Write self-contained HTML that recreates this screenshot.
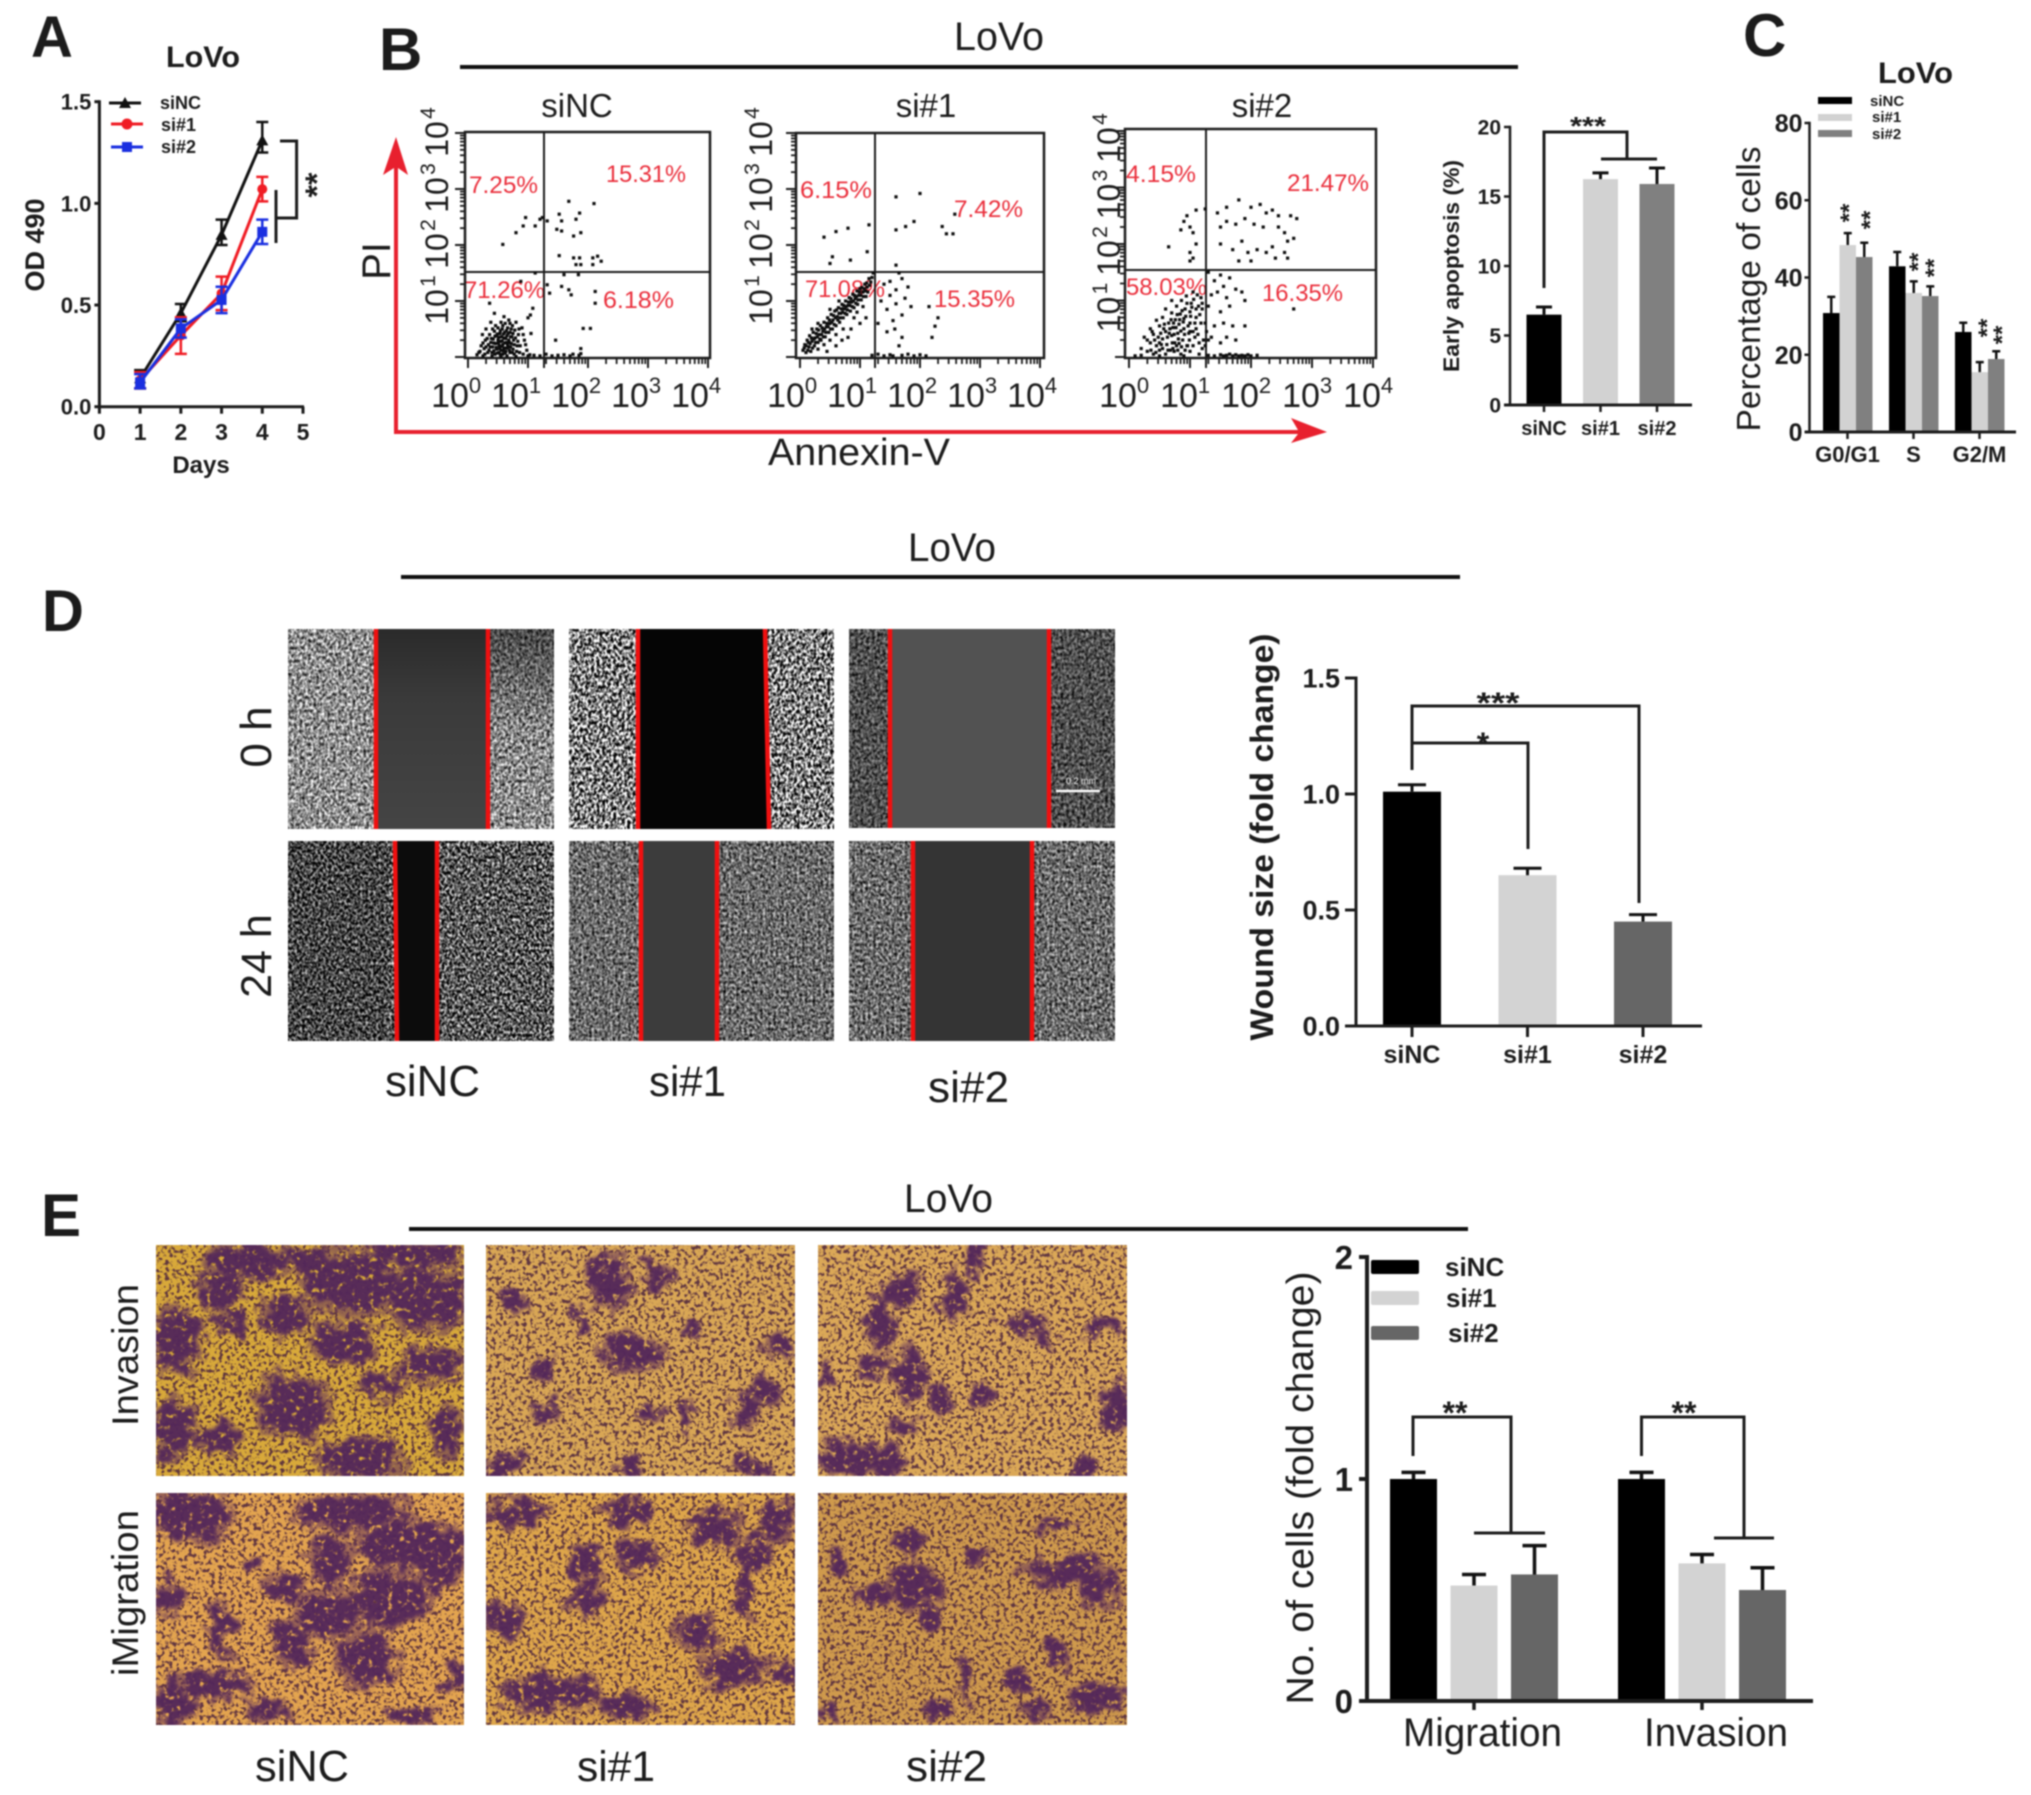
<!DOCTYPE html>
<html lang="en">
<head>
<meta charset="utf-8">
<title>LoVo knockdown figure</title>
<style>
html,body{margin:0;padding:0;background:#fff;}
#figure{display:block;width:2031px;height:1795px;filter:blur(0.7px);}
text{font-family:"Liberation Sans",sans-serif;fill:#1c1c1c;}
.b{font-weight:bold;}
.m{text-anchor:middle;}
.red{fill:#ea2f3c;}
</style>
</head>
<body>
<svg id="figure" xmlns="http://www.w3.org/2000/svg" width="2031" height="1795" viewBox="0 0 2031 1795">
<defs>
<filter id="tex-a" x="0" y="0" width="1" height="1" color-interpolation-filters="sRGB"><feTurbulence type="fractalNoise" baseFrequency=".36 .3" numOctaves="2" seed="4"/><feColorMatrix values="1.7 0 0 0 -.29 1.7 0 0 0 -.29 1.7 0 0 0 -.29 0 0 0 0 1"/></filter>
<filter id="tex-b" x="0" y="0" width="1" height="1" color-interpolation-filters="sRGB"><feTurbulence type="fractalNoise" baseFrequency=".36 .28" numOctaves="2" seed="9"/><feColorMatrix values="3 0 0 0 -1 3 0 0 0 -1 3 0 0 0 -1 0 0 0 0 1"/></filter>
<filter id="tex-c" x="0" y="0" width="1" height="1" color-interpolation-filters="sRGB"><feTurbulence type="fractalNoise" baseFrequency=".36 .3" numOctaves="2" seed="14"/><feColorMatrix values="1.4 0 0 0 -.28 1.4 0 0 0 -.28 1.4 0 0 0 -.28 0 0 0 0 1"/></filter>
<filter id="tex-d" x="0" y="0" width="1" height="1" color-interpolation-filters="sRGB"><feTurbulence type="fractalNoise" baseFrequency=".38 .32" numOctaves="2" seed="21"/><feColorMatrix values="2.2 0 0 0 -.75 2.2 0 0 0 -.75 2.2 0 0 0 -.75 0 0 0 0 1"/></filter>
<filter id="tex-e" x="0" y="0" width="1" height="1" color-interpolation-filters="sRGB"><feTurbulence type="fractalNoise" baseFrequency=".38 .32" numOctaves="2" seed="33"/><feColorMatrix values="1.4 0 0 0 -.28 1.4 0 0 0 -.28 1.4 0 0 0 -.28 0 0 0 0 1"/></filter>
<filter id="speckle" x="0" y="0" width="1" height="1" color-interpolation-filters="sRGB"><feTurbulence type="fractalNoise" baseFrequency=".26" numOctaves="2" seed="8"/><feColorMatrix values="0 0 0 0 .3 0 0 0 0 .14 0 0 0 0 .24 6 0 0 0 -3"/></filter>
<filter id="blotchy" filterUnits="userSpaceOnUse" x="150" y="1240" width="990" height="490" color-interpolation-filters="sRGB"><feTurbulence type="fractalNoise" baseFrequency=".06" numOctaves="3" seed="5" result="n"/><feDisplacementMap in="SourceGraphic" in2="n" scale="34" xChannelSelector="R" yChannelSelector="G"/><feGaussianBlur stdDeviation="1.6" result="shape"/><feTurbulence type="fractalNoise" baseFrequency=".16" numOctaves="2" seed="11"/><feColorMatrix values="0 0 0 0 0 0 0 0 0 0 0 0 0 0 0 5 0 0 0 -1.2" result="grain"/><feComposite in="shape" in2="grain" operator="in"/></filter>
<linearGradient id="gap-sinc-0h" x1="0" y1="0" x2="0" y2="1"><stop offset="0" stop-color="#2a2a2a"/><stop offset=".35" stop-color="#3a3a3a"/><stop offset="1" stop-color="#444"/></linearGradient>
<linearGradient id="cells-sinc-0h-right" x1="0" y1="0" x2="0" y2="1"><stop offset="0" stop-color="#000" stop-opacity=".5"/><stop offset=".5" stop-color="#000" stop-opacity=".05"/><stop offset="1" stop-color="#000" stop-opacity="0"/></linearGradient>
</defs>

<!-- Panel letters -->
<text class="b" x="31" y="57" font-size="58">A</text>
<text class="b" x="379" y="70" font-size="60">B</text>
<text class="b" x="1743" y="56" font-size="60">C</text>
<text class="b" x="42" y="631" font-size="58">D</text>
<text class="b" x="41" y="1236" font-size="60">E</text>

<!-- Panel A static -->
<text class="b" x="166" y="67" font-size="30" textLength="74" lengthAdjust="spacingAndGlyphs">LoVo</text>
<text class="b m" x="44" y="245" font-size="27" transform="rotate(-90 44 245)">OD 490</text>
<text class="b m" x="201" y="473" font-size="24">Days</text>
<g>
<line x1="109" y1="103" x2="141" y2="103" stroke="#111" stroke-width="3"/>
<polygon points="125,97 131,108 119,108" fill="#111"/>
<text class="b" x="160" y="109" font-size="18">siNC</text>
<line x1="111" y1="124" x2="143" y2="124" stroke="#f01c24" stroke-width="3"/>
<circle cx="127" cy="124" r="5.5" fill="#f01c24"/>
<text class="b" x="161" y="131" font-size="18">si#1</text>
<line x1="111" y1="147" x2="143" y2="147" stroke="#1a2fe0" stroke-width="3"/>
<rect x="122" y="142" width="10" height="10" fill="#1a2fe0"/>
<text class="b" x="161" y="153" font-size="18">si#2</text>
</g>
<path d="M280 141H296.6V218H275M276 190V243" fill="none" stroke="#1c1c1c" stroke-width="3"/>
<text class="b m" x="328" y="185" font-size="32" transform="rotate(-90 328 185)">**</text>
<g id="chart-a"></g>

<!-- Panel B static -->
<line x1="460" y1="67" x2="1518" y2="67" stroke="#111" stroke-width="4"/>
<text x="954" y="50" font-size="40" textLength="90" lengthAdjust="spacingAndGlyphs">LoVo</text>
<polygon points="394,434 394,168 383,175 396,137 408,175 398,168 398,434" fill="#e8202e"/>
<polygon points="394,430 1298,430 1291,418 1327,432 1291,443 1298,434 394,434" fill="#e8202e"/>
<text class="m" x="390" y="261" font-size="40" transform="rotate(-90 390 261)">PI</text>
<text x="768" y="465" font-size="38" textLength="182" lengthAdjust="spacingAndGlyphs">Annexin-V</text>
<text class="m" x="577" y="117" font-size="33">siNC</text>
<text class="m" x="926" y="117" font-size="33">si#1</text>
<text class="m" x="1262" y="117" font-size="33">si#2</text>
<g font-size="24">
<text class="red" x="469" y="193" textLength="69" lengthAdjust="spacingAndGlyphs">7.25%</text>
<text class="red" x="606" y="182" textLength="80" lengthAdjust="spacingAndGlyphs">15.31%</text>
<text class="red" x="464" y="298" textLength="81" lengthAdjust="spacingAndGlyphs">71.26%</text>
<text class="red" x="603" y="308" textLength="71" lengthAdjust="spacingAndGlyphs">6.18%</text>
<text class="red" x="800" y="198" textLength="72" lengthAdjust="spacingAndGlyphs">6.15%</text>
<text class="red" x="954" y="217" textLength="69" lengthAdjust="spacingAndGlyphs">7.42%</text>
<text class="red" x="805" y="297" textLength="80" lengthAdjust="spacingAndGlyphs">71.08%</text>
<text class="red" x="934" y="307" textLength="81" lengthAdjust="spacingAndGlyphs">15.35%</text>
<text class="red" x="1126" y="182" textLength="70" lengthAdjust="spacingAndGlyphs">4.15%</text>
<text class="red" x="1287" y="191" textLength="82" lengthAdjust="spacingAndGlyphs">21.47%</text>
<text class="red" x="1126" y="295" textLength="81" lengthAdjust="spacingAndGlyphs">58.03%</text>
<text class="red" x="1262" y="301" textLength="81" lengthAdjust="spacingAndGlyphs">16.35%</text>
</g>
<g id="flow-1"></g>
<g id="flow-2"></g>
<g id="flow-3"></g>
<text class="b m" x="1459" y="266" font-size="22" textLength="212" lengthAdjust="spacingAndGlyphs" transform="rotate(-90 1459 266)">Early apoptosis (%)</text>
<g id="chart-b"></g>
<path d="M1544 288V132H1627V159M1601 159H1657" fill="none" stroke="#1c1c1c" stroke-width="3"/>
<text class="b m" x="1588" y="135" font-size="26" textLength="36" lengthAdjust="spacingAndGlyphs">***</text>

<!-- Panel C static -->
<text class="b" x="1878" y="83" font-size="30" textLength="75" lengthAdjust="spacingAndGlyphs">LoVo</text>
<text class="m" x="1760" y="289" font-size="33" textLength="285" lengthAdjust="spacingAndGlyphs" transform="rotate(-90 1760 289)">Percentage of cells</text>
<g>
<rect x="1818" y="97" width="34" height="7" fill="#000"/>
<rect x="1818" y="114" width="34" height="7" fill="#d2d2d2"/>
<rect x="1818" y="130" width="34" height="7" fill="#808080"/>
<text class="b" x="1870" y="106" font-size="15">siNC</text>
<text class="b" x="1872" y="122" font-size="15">si#1</text>
<text class="b" x="1872" y="139" font-size="15">si#2</text>
</g>
<g id="chart-c"></g>
<g font-size="24">
<text class="b m" x="1857" y="213" transform="rotate(-90 1857 213)">**</text>
<text class="b m" x="1878" y="220" transform="rotate(-90 1878 220)">**</text>
<text class="b m" x="1926" y="262" transform="rotate(-90 1926 262)">**</text>
<text class="b m" x="1942" y="268" transform="rotate(-90 1942 268)">**</text>
<text class="b m" x="1995" y="328" transform="rotate(-90 1995 328)">**</text>
<text class="b m" x="2010" y="335" transform="rotate(-90 2010 335)">**</text>
</g>

<!-- Panel D static -->
<text x="908" y="561" font-size="40" textLength="88" lengthAdjust="spacingAndGlyphs">LoVo</text>
<line x1="401" y1="577" x2="1460" y2="577" stroke="#111" stroke-width="4"/>
<text class="m" x="271" y="737" font-size="44" transform="rotate(-90 271 737)">0 h</text>
<text class="m" x="271" y="956" font-size="43" transform="rotate(-90 271 956)">24 h</text>
<text x="385" y="1096" font-size="44" textLength="95" lengthAdjust="spacingAndGlyphs">siNC</text>
<text x="649" y="1096" font-size="43" textLength="77" lengthAdjust="spacingAndGlyphs">si#1</text>
<text x="928" y="1102" font-size="44" textLength="81" lengthAdjust="spacingAndGlyphs">si#2</text>

<g>
<rect x="288" y="629" width="266" height="200" filter="url(#tex-a)"/>
<rect x="378" y="629" width="110" height="200" fill="url(#gap-sinc-0h)"/>
<rect x="490" y="629" width="64" height="200" fill="url(#cells-sinc-0h-right)"/>
<line x1="376" y1="629" x2="376" y2="829" stroke="#f01010" stroke-width="4.5"/>
<line x1="488" y1="629" x2="488" y2="829" stroke="#f01010" stroke-width="4.5"/>
</g>
<g>
<rect x="569" y="629" width="265" height="200" filter="url(#tex-b)"/>
<rect x="640" y="629" width="127" height="200" fill="#050505"/>
<line x1="638" y1="629" x2="638" y2="829" stroke="#f01010" stroke-width="4.5"/>
<line x1="765" y1="629" x2="769" y2="829" stroke="#f01010" stroke-width="4.5"/>
</g>
<g>
<rect x="849" y="629" width="266" height="199" filter="url(#tex-c)"/>
<rect x="849" y="629" width="266" height="199" fill="#000" opacity=".25"/>
<rect x="892" y="629" width="157" height="199" fill="#525252"/>
<line x1="890" y1="629" x2="890" y2="828" stroke="#f01010" stroke-width="4.5"/>
<line x1="1049" y1="629" x2="1049" y2="828" stroke="#f01010" stroke-width="4.5"/>
<line x1="1056" y1="791" x2="1100" y2="791" stroke="#fff" stroke-width="2.5"/>
<text x="1066" y="784" font-size="9" style="fill:#eee">0.2 mm</text>
</g>
<g>
<rect x="288" y="841" width="266" height="200" filter="url(#tex-d)"/>
<rect x="288" y="841" width="100" height="200" fill="#000" opacity=".2"/>
<rect x="397" y="841" width="40" height="200" fill="#0c0c0c"/>
<line x1="395" y1="841" x2="397" y2="1041" stroke="#f01010" stroke-width="4.5"/>
<line x1="437" y1="841" x2="437" y2="1041" stroke="#f01010" stroke-width="4.5"/>
</g>
<g>
<rect x="569" y="841" width="265" height="200" filter="url(#tex-e)"/>
<rect x="643" y="841" width="74" height="200" fill="#3c3c3c"/>
<line x1="641" y1="841" x2="641" y2="1041" stroke="#f01010" stroke-width="4.5"/>
<line x1="717" y1="841" x2="717" y2="1041" stroke="#f01010" stroke-width="4.5"/>
</g>
<g>
<rect x="849" y="841" width="266" height="200" filter="url(#tex-e)"/>
<rect x="915" y="841" width="117" height="200" fill="#343434"/>
<line x1="913" y1="841" x2="913" y2="1041" stroke="#f01010" stroke-width="4.5"/>
<line x1="1032" y1="841" x2="1032" y2="1041" stroke="#f01010" stroke-width="4.5"/>
</g>

<text class="b m" x="1273" y="837" font-size="32" textLength="407" lengthAdjust="spacingAndGlyphs" transform="rotate(-90 1273 837)">Wound size (fold change)</text>
<g id="chart-d"></g>
<path d="M1412 770V706H1639V903" fill="none" stroke="#1c1c1c" stroke-width="3"/>
<path d="M1412 743H1528V849" fill="none" stroke="#1c1c1c" stroke-width="3"/>
<text class="b m" x="1498" y="713" font-size="30" textLength="43" lengthAdjust="spacingAndGlyphs">***</text>
<text class="b m" x="1483" y="755" font-size="32">*</text>

<!-- Panel E static -->
<text x="904" y="1212" font-size="40" textLength="89" lengthAdjust="spacingAndGlyphs">LoVo</text>
<line x1="409" y1="1229" x2="1468" y2="1229" stroke="#111" stroke-width="4"/>
<g id="transwell"></g>
<text class="m" x="138" y="1355" font-size="37" textLength="142" lengthAdjust="spacingAndGlyphs" transform="rotate(-90 138 1355)">Invasion</text>
<text class="m" x="138" y="1593" font-size="37" textLength="166" lengthAdjust="spacingAndGlyphs" transform="rotate(-90 138 1593)">iMigration</text>
<text x="255" y="1781" font-size="44" textLength="94" lengthAdjust="spacingAndGlyphs">siNC</text>
<text x="577" y="1781" font-size="43" textLength="78" lengthAdjust="spacingAndGlyphs">si#1</text>
<text x="906" y="1781" font-size="44" textLength="81" lengthAdjust="spacingAndGlyphs">si#2</text>

<text class="m" x="1313" y="1488" font-size="38" textLength="433" lengthAdjust="spacingAndGlyphs" transform="rotate(-90 1313 1488)">No. of cells (fold change)</text>
<g>
<rect x="1371" y="1260" width="48" height="14" rx="2" fill="#000"/>
<rect x="1371" y="1291" width="48" height="14" rx="2" fill="#d3d3d3"/>
<rect x="1371" y="1326" width="48" height="14" rx="2" fill="#666"/>
<text class="b" x="1445" y="1276" font-size="26">siNC</text>
<text class="b" x="1446" y="1307" font-size="26">si#1</text>
<text class="b" x="1448" y="1342" font-size="26">si#2</text>
</g>
<g id="chart-e"></g>
<path d="M1413 1456V1417H1511V1533M1474 1533H1545" fill="none" stroke="#1c1c1c" stroke-width="3"/>
<path d="M1641.5 1456V1417H1744V1538M1714 1538H1774" fill="none" stroke="#1c1c1c" stroke-width="3"/>
<text class="b m" x="1455" y="1424" font-size="32">**</text>
<text class="b m" x="1684" y="1424" font-size="32">**</text>
<text x="1403" y="1746" font-size="40" textLength="159" lengthAdjust="spacingAndGlyphs">Migration</text>
<text x="1644" y="1746" font-size="40" textLength="144" lengthAdjust="spacingAndGlyphs">Invasion</text>
</svg>

<script>
/* ---------- Panel A data ---------- */
const growthDays = [1, 2, 3, 4];
const growthXTicks = [0, 1, 2, 3, 4, 5];
const growthYTicks = [0, 0.5, 1, 1.5];
const growthYLabels = ['0.0', '0.5', '1.0', '1.5'];
const growthSiNC = [0.14, 0.46, 0.845, 1.31];
const growthSiNCUpper = [0.18, 0.505, 0.92, 1.40];
const growthSiNCLower = [0.09, 0.42, 0.795, 1.25];
const growthSi1 = [0.13, 0.35, 0.557, 1.07];
const growthSi1Upper = [0.17, 0.44, 0.64, 1.13];
const growthSi1Lower = [0.09, 0.26, 0.475, 1.01];
const growthSi2 = [0.12, 0.385, 0.525, 0.86];
const growthSi2Upper = [0.16, 0.43, 0.59, 0.92];
const growthSi2Lower = [0.09, 0.34, 0.46, 0.80];

/* ---------- Panel B data ---------- */
const flowExponents = [0, 1, 2, 3, 4];
const flowPointsSiNC = [
[1.68,2.78],[2.10,2.74],[.96,2.49],[1.24,2.49],[1.52,2.55],[1.86,2.57],[1.32,2.43],[1.56,2.43],[1.8,2.46],[1.2,2.46],[.92,2.34],[1.12,2.34],[1.48,2.28],[1.56,2.25],[1.76,2.16],[1.88,2.22],[.8,2.22],[.58,2.01],[1.52,1.81],[1.76,1.77],[1.86,1.77],[2.16,1.8],[2.08,1.77],[2.22,1.71],[1.8,1.65],[1.88,1.65],[2.08,1.65],
[1.6,1.47],[1.84,1.47],[1.32,1.29],[1.56,1.26],[1.68,1.2],[1.12,1.5],[.88,1.35],[1.36,1.14],[1.72,1.11],[2.12,1.17],[2.12,.96],[1.08,.87],[1.04,.75],[.36,.96],[.44,.78],[1.92,.51],[2.04,.51],[1.46,.3],[1.88,.15],[1.88,.06],
[.2,.1],[.25,.25],[.28,.05],[.3,.18],[.32,.33],[.35,.12],[.36,.4],[.38,.26],[.4,.08],[.41,.18],[.42,.32],[.44,.46],[.45,.05],[.46,.24],[.47,.38],[.48,.14],[.5,.3],[.5,.52],[.52,.08],[.52,.2],[.53,.42],[.55,.28],[.55,.12],[.56,.36],[.57,.5],[.58,.05],[.58,.22],[.6,.16],[.6,.34],[.61,.44],[.62,.6],[.63,.1],[.64,.26],[.65,.38],[.66,.52],[.67,.18],[.68,.3],[.68,.66],[.7,.08],[.7,.44],[.72,.24],[.73,.36],[.74,.56],[.75,.14],[.76,.3],[.78,.48],[.8,.62],[.82,.2],[.84,.4],[.86,.08],[.9,.52],[.94,.3],[.98,.12],[1.0,.7],[1.05,.42],[.3,.5],[.38,.62],[.24,.4],[.15,.04],[.6,.72],[.55,.62],
[.33,.08],[.37,.18],[.39,.33],[.43,.11],[.43,.25],[.45,.37],[.47,.17],[.49,.07],[.49,.41],[.51,.25],[.51,.35],[.53,.15],[.54,.47],[.54,.04],[.56,.19],[.57,.29],[.59,.11],[.59,.41],[.61,.25],[.62,.07],[.63,.33],[.64,.47],[.65,.16],[.66,.22],[.67,.42],[.69,.12],[.69,.26],[.71,.36],[.71,.18],[.72,.5],[.74,.08],[.75,.42],[.77,.22],[.79,.34],[.81,.1],[.83,.28],[.85,.5],[.87,.2],[.92,.4],[.96,.22],[.27,.15],[.29,.3],[.22,.2],[.18,.08],[.34,.22],[.41,.5],[.46,.56],[.58,.56],[.7,.6],[.77,.05],[.92,.05],[1.03,.04],[.4,.02],[.55,.01],[.65,.02],[.25,.02],[.8,.01],
[1.0,.02],[1.1,.03],[1.2,.02],[1.3,.05],[1.4,.02],[1.5,.03],[1.6,.04],[1.7,.02],[1.75,.05],[1.85,.03]
];
const flowPointsSi1 = [
[1.6,2.86],[2.0,2.92],[2.58,2.55],[1.15,2.36],[.8,2.3],[.6,2.24],[.4,2.14],[1.9,2.42],[1.76,2.33],[1.6,2.27],[2.37,2.33],[2.55,2.2],[2.44,2.2],[1.12,1.88],[.84,1.73],[.54,1.79],[.5,1.67],[1.6,1.64],
[.05,.12],[.08,.22],[.1,.08],[.12,.3],[.15,.18],[.16,.38],[.18,.1],[.2,.28],[.22,.44],[.24,.2],[.25,.34],[.28,.5],[.3,.26],[.3,.14],[.32,.4],[.34,.56],[.35,.3],[.38,.46],[.4,.62],[.4,.22],[.42,.36],[.44,.54],[.46,.7],[.48,.44],[.5,.3],[.5,.6],[.52,.76],[.54,.5],[.55,.66],[.58,.82],[.6,.56],[.6,.4],[.62,.72],[.64,.88],[.66,.62],[.68,.78],[.7,.94],[.72,.7],[.72,.5],[.74,.86],[.76,1.0],[.78,.76],[.8,.92],[.82,1.06],[.84,.82],[.86,.98],[.88,1.12],[.9,.88],[.92,1.04],[.95,1.18],[.96,.94],[.98,1.1],[1.0,1.22],[1.02,1.02],[1.05,1.16],[1.08,1.3],[1.1,1.08],[1.12,1.25],[1.15,1.4],[.9,.7],[.95,.8],[1.0,.6],[.85,.5],[1.05,.9],[1.1,.7],[.7,.3],[.6,.2],[.8,.35],[.45,.1],[.3,.6],[.2,.5],[.5,.85],[.65,1.0],
[.07,.16],[.1,.2],[.13,.12],[.14,.26],[.17,.24],[.19,.34],[.21,.16],[.23,.32],[.26,.26],[.27,.42],[.29,.36],[.31,.48],[.33,.32],[.36,.4],[.37,.52],[.39,.36],[.41,.5],[.43,.44],[.45,.6],[.47,.54],[.49,.66],[.51,.5],[.53,.62],[.56,.74],[.57,.58],[.59,.7],[.61,.84],[.63,.66],[.65,.78],[.67,.7],[.69,.86],[.71,.8],[.73,.92],[.75,.78],[.77,.9],[.79,.84],[.81,.98],[.83,.92],[.85,1.04],[.87,.9],[.89,1.0],[.91,1.1],[.93,.96],[.94,1.08],[.97,1.02],[.99,1.16],[1.01,1.1],[1.03,1.24],[1.06,1.08],[1.07,1.22],[1.09,1.18],[1.11,1.32],[1.13,1.16],[1.16,1.28],[1.18,1.34],[1.2,1.42],[1.22,1.5],
[1.35,1.0],[1.5,1.1],[1.6,1.2],[1.7,1.4],[1.8,1.25],[1.75,1.05],[1.6,.95],[1.45,.85],[1.85,.9],[1.7,.75],[1.55,.65],[1.4,1.3],[2.15,.9],[2.3,.7],[2.25,.55],[2.2,.35],[1.7,.35],[1.65,.2],[1.45,.45],[1.3,.6],[1.5,1.35],[1.65,1.5],[1.58,.5],
[1.2,.03],[1.3,.05],[1.4,.02],[1.5,.04],[1.55,.02],[1.7,.03],[1.8,.05],[1.9,.02],[2.0,.04],[2.1,.02]
];
const flowPointsSi2 = [
[.9,2.4],[.95,2.5],[1.1,2.6],[1.25,2.62],[1.45,2.55],[1.6,2.65],[1.8,2.78],[2.0,2.65],[2.15,2.7],[2.25,2.55],[2.35,2.6],[2.45,2.5],[2.65,2.5],[2.75,2.45],[1.05,2.2],[1.0,2.3],[.85,2.25],[1.5,2.3],[1.6,2.4],[1.75,2.35],[1.9,2.45],[2.05,2.35],[2.2,2.3],[2.45,2.3],[2.55,2.2],[2.6,2.05],[2.7,2.1],[.65,1.95],[1.0,1.85],[1.05,1.75],[1.1,2.0],[1.5,2.0],[1.7,1.9],[1.85,2.05],[1.95,1.85],[2.1,1.9],[2.25,1.85],[2.35,1.95],[2.4,1.75],[2.6,1.75],[2.55,1.85],[1.8,1.7],[2.0,1.7],[1.0,1.7],
[1.3,1.5],[1.4,1.35],[1.5,1.45],[1.55,1.25],[1.65,1.4],[1.45,1.15],[1.6,1.05],[1.35,1.1],[1.3,.9],[1.5,.8],[1.65,.9],[1.75,1.2],[1.85,1.15],[1.9,1.0],[1.55,.6],[1.7,.55],[1.4,.55],[1.6,.35],[1.75,.3],[1.5,.25],[1.9,.55],[1.35,.35],[2.7,.85],
[.3,.1],[.35,.25],[.4,.05],[.4,.4],[.45,.2],[.5,.55],[.5,.12],[.55,.32],[.55,.7],[.6,.05],[.6,.45],[.62,.22],[.65,.6],[.68,.12],[.7,.38],[.7,.78],[.72,.52],[.75,.25],[.76,.66],[.78,.9],[.8,.12],[.8,.42],[.82,.58],[.84,.76],[.86,1.0],[.88,.3],[.9,.5],[.9,.68],[.92,.85],[.94,1.08],[.96,.2],[.98,.42],[1.0,.6],[1.0,.8],[1.02,.95],[1.05,1.15],[1.08,.35],[1.1,.7],[1.1,.5],[1.14,.9],[1.18,1.05],[1.2,.15],[1.25,.6],[1.2,.85],[.25,.35],[.2,.15],[.45,.65],[.6,.85],[.7,1.0],[1.3,.3],[1.0,.1],[.85,.05],[1.15,.05],[.35,.5],[.58,.58],[.66,.42],[.74,.1],[.82,.24],[.92,.12],
[.42,.3],[.48,.35],[.52,.42],[.53,.22],[.57,.5],[.63,.35],[.64,.12],[.67,.5],[.69,.66],[.71,.25],[.73,.6],[.74,.4],[.77,.52],[.79,.75],[.81,.32],[.83,.66],[.85,.46],[.87,.82],[.89,.62],[.91,.4],[.93,.72],[.95,.95],[.97,.55],[.99,.3],[1.01,.72],[1.03,.88],[1.05,.45],[1.06,1.02],[1.08,.6],[1.1,.85],[1.12,1.1],[1.13,.4],[1.16,.75],[1.18,.6],[1.2,.95],[1.22,.3],[.36,.12],[.44,.08],[.5,.25],[.78,.2],[.86,.18],[1.05,.2],[.3,.3],[.38,.45],[.55,.15],[1.25,.2],[1.27,.45],[.95,.2],[.72,.15],[1.0,.45],[1.15,.25],
[.1,.02],[.2,.03],[.5,.02],[.9,.02],[1.3,.03],[1.4,.02],[1.5,.04],[1.55,.02],[1.6,.03],[1.65,.05],[1.7,.02],[1.75,.04],[1.8,.02],[1.85,.03],[1.9,.02],[1.95,.04],[2.0,.02],[2.1,.03]
];
const apoptosisCategories = ['siNC', 'si#1', 'si#2'];
const apoptosisMeans = [6.5, 16.25, 15.9];
const apoptosisErrors = [0.55, 0.45, 1.15];
const apoptosisTicks = [0, 5, 10, 15, 20];

/* ---------- Panel C data ---------- */
const cycleCategories = ['G0/G1', 'S', 'G2/M'];
const cycleSiNC = [30.8, 42.9, 25.9];
const cycleSi1 = [48.4, 36, 15.5];
const cycleSi2 = [45.3, 35.2, 18.9];
const cycleSiNCErr = [4.2, 3.7, 2.4];
const cycleSi1Err = [3.1, 3, 2.6];
const cycleSi2Err = [3.7, 2.5, 2];
const cycleTicks = [0, 20, 40, 60, 80];

/* ---------- Panel D data ---------- */
const woundCategories = ['siNC', 'si#1', 'si#2'];
const woundMeans = [1.01, 0.65, 0.45];
const woundErrors = [0.03, 0.03, 0.03];
const woundTicks = [0, 0.5, 1, 1.5];
const woundTickLabels = ['0.0', '0.5', '1.0', '1.5'];

/* ---------- Panel E data ---------- */
const cellCategories = ['Migration', 'Invasion'];
const cellSiNC = [1.0, 1.0];
const cellSi1 = [0.52, 0.62];
const cellSi2 = [0.57, 0.5];
const cellSiNCErr = [0.03, 0.03];
const cellSi1Err = [0.05, 0.04];
const cellSi2Err = [0.13, 0.1];
const cellTicks = [0, 1, 2];

const INK = '#1c1c1c';
const NS = 'http://www.w3.org/2000/svg';

function make(tag, attrs, parent) {
  const el = document.createElementNS(NS, tag);
  for (const k in attrs) el.setAttribute(k, attrs[k]);
  parent.appendChild(el);
  return el;
}
function linear(d0, d1, r0, r1) {
  return v => r0 + (v - d0) * (r1 - r0) / (d1 - d0);
}

/* Vertical value axis with ticks and labels */
function drawValueAxis(parent, scale, ticks, labels, o) {
  const axis = make('line', {x1: o.x, x2: o.x, y1: scale(ticks[ticks.length - 1]) - o.w / 2, y2: scale(ticks[0]) + o.w / 2, stroke: INK, 'stroke-width': o.w}, parent);
  
  
  ticks.forEach((t, i) => {
    const tick = make('line', {x1: o.x - o.len, x2: o.x, y1: scale(t), y2: scale(t), stroke: INK, 'stroke-width': o.w}, parent);
    
    
    const label = make('text', {x: o.x - o.len - o.gap, y: scale(t) + o.size * 0.36, 'font-size': o.size, 'text-anchor': 'end', 'font-weight': o.weight || 'bold'}, parent);
    label.textContent = labels[i];
    
    
  });
}
/* Horizontal baseline */
function drawBaseline(parent, x1, x2, y, w) {
  const axis = make('line', {x1: x1, x2: x2, y1: y, y2: y, stroke: INK, 'stroke-width': w}, parent);
  
  
}
function drawCategoryTick(parent, x, y, len, w, text, labelY, size) {
  const tick = make('line', {x1: x, x2: x, y1: y, y2: y + len, stroke: INK, 'stroke-width': w}, parent);
  
  
  if (text !== null) {
    const label = make('text', {x: x, y: labelY, 'font-size': size, 'text-anchor': 'middle', 'font-weight': 'bold'}, parent);
    label.textContent = text;
    
    
  }
}
/* Bar with upper error whisker */
function drawBar(parent, x, width, scale, value, err, fill, capW, capH, name) {
  const base = scale(0);
  const bar = make('rect', {x: x, y: scale(value), width: width, height: base - scale(value), fill: fill}, parent);
  
  
  const cx = x + width / 2;
  const whisker = make('path', {d: 'M' + cx + ' ' + scale(value) + 'V' + scale(value + err) + 'M' + (cx - capW / 2) + ' ' + scale(value + err) + 'H' + (cx + capW / 2), fill: 'none', stroke: '#111', 'stroke-width': capH}, parent);
  
  
}

/* ---------- Panel A ---------- */
(function () {
  const g = document.getElementById('chart-a');
  const x = linear(0, 5, 99.4, 303);
  const y = linear(0, 1.5, 406.7, 101.7);
  drawValueAxis(g, y, growthYTicks, growthYLabels, {x: 99.4, len: 5, gap: 3, size: 22, w: 3});
  drawBaseline(g, 98, 304, y(0), 3);
  growthXTicks.forEach(t => drawCategoryTick(g, x(t), y(0), 7, 3, String(t), 440, 23));
  const series = [
    {name: 'sinc', color: '#111', mean: growthSiNC, up: growthSiNCUpper, low: growthSiNCLower},
    {name: 'si1', color: '#f01c24', mean: growthSi1, up: growthSi1Upper, low: growthSi1Lower},
    {name: 'si2', color: '#1a2fe0', mean: growthSi2, up: growthSi2Upper, low: growthSi2Lower}
  ];
  series.forEach(s => {
    const pts = growthDays.map((d, i) => x(d) + ',' + y(s.mean[i])).join(' ');
    const line = make('polyline', {points: pts, fill: 'none', stroke: s.color, 'stroke-width': 3}, g);
    
    
    growthDays.forEach((d, i) => {
      const cx = x(d), cy = y(s.mean[i]);
      const err = make('path', {d: 'M' + cx + ' ' + y(s.up[i]) + 'V' + y(s.low[i]) + 'M' + (cx - 6) + ' ' + y(s.up[i]) + 'H' + (cx + 6) + 'M' + (cx - 6) + ' ' + y(s.low[i]) + 'H' + (cx + 6), fill: 'none', stroke: s.color, 'stroke-width': 2.5}, g);
      
      
      let mark;
      if (s.name === 'sinc') mark = make('polygon', {points: cx + ',' + (cy - 6) + ' ' + (cx + 6) + ',' + (cy + 5) + ' ' + (cx - 6) + ',' + (cy + 5), fill: s.color}, g);
      else if (s.name === 'si1') mark = make('circle', {cx: cx, cy: cy, r: 5, fill: s.color}, g);
      else mark = make('rect', {x: cx - 5, y: cy - 5, width: 10, height: 10, fill: s.color}, g);
      
      
    });
  });
})();

/* ---------- Panel B flow plots ---------- */
function drawFlow(id, points, o) {
  const g = document.getElementById(id);
  const x = linear(0, 4, o.x0, o.x4);
  const y = linear(0, 4, o.y0, o.y4);
  const box = make('rect', {x: o.left, y: o.top, width: o.right - o.left, height: o.bottom - o.top, fill: 'none', stroke: INK, 'stroke-width': 2.5}, g);
  
  
  const vGate = make('line', {x1: o.gateX, x2: o.gateX, y1: o.top, y2: o.bottom + 10, stroke: INK, 'stroke-width': 2}, g);
  
  
  const hGate = make('line', {x1: o.left, x2: o.right, y1: o.gateY, y2: o.gateY, stroke: INK, 'stroke-width': 2}, g);
  
  
  flowExponents.forEach(n => {
    const xt = make('line', {x1: x(n), x2: x(n), y1: o.bottom, y2: o.bottom + 10, stroke: INK, 'stroke-width': 2}, g);
    
    
    const yt = make('line', {x1: o.left - 10, x2: o.left, y1: y(n), y2: y(n), stroke: INK, 'stroke-width': 2}, g);
    
    
    const xl = make('text', {x: x(n) - 6 + o.labelShift, y: 407, 'font-size': 34, 'text-anchor': 'middle'}, g);
    xl.textContent = '10';
    
    
    const xs = make('text', {x: x(n) + 19 + o.labelShift, y: 393, 'font-size': 22, 'text-anchor': 'middle'}, g);
    xs.textContent = String(n);
    
    
    if (n > 0) {
      const yy = y(n) + o.labelDy;
      const yl = make('text', {x: o.labelX, y: yy, 'font-size': 32, 'text-anchor': 'middle', transform: 'rotate(-90 ' + o.labelX + ' ' + yy + ')'}, g);
      yl.textContent = '10';
      
      
      const ye = yy - 26;
      const ys = make('text', {x: o.labelX - 13, y: ye, 'font-size': 21, 'text-anchor': 'middle', transform: 'rotate(-90 ' + (o.labelX - 13) + ' ' + ye + ')'}, g);
      ys.textContent = String(n);
      
      
    }
    if (n < 4) {
      [2, 3, 4, 5, 6, 7, 8, 9].forEach(m => {
        const off = n + Math.log10(m);
        const xm = make('line', {x1: x(off), x2: x(off), y1: o.bottom, y2: o.bottom + 6, stroke: INK, 'stroke-width': 1.8}, g);
        
        
        const ym = make('line', {x1: o.left - 5, x2: o.left, y1: y(off), y2: y(off), stroke: INK, 'stroke-width': 1.8}, g);
        
        
      });
    }
  });
  points.forEach(p => {
    const dot = make('rect', {x: x(p[0]) - 1.6, y: y(p[1]) - 1.6, width: 3.2, height: 3.2, fill: '#0c0c0c'}, g);
    
    
  });
}
drawFlow('flow-1', flowPointsSiNC, {x0: 468, x4: 708, y0: 357, y4: 133, left: 465, right: 710, top: 132, bottom: 358, gateX: 544, gateY: 272, labelX: 448, labelDy: 6, labelShift: -12});
drawFlow('flow-2', flowPointsSi1, {x0: 800, x4: 1040, y0: 357, y4: 133, left: 796, right: 1044, top: 133, bottom: 358, gateX: 875, gateY: 272, labelX: 772, labelDy: 6, labelShift: -8});
drawFlow('flow-3', flowPointsSi2, {x0: 1129, x4: 1373, y0: 357, y4: 131, left: 1125, right: 1376, top: 129, bottom: 358, gateX: 1206, gateY: 270, labelX: 1120, labelDy: 14, labelShift: -5});

/* ---------- Panel B bars ---------- */
(function () {
  const g = document.getElementById('chart-b');
  const y = linear(0, 20, 405, 127);
  const fills = ['#000', '#d2d2d2', '#808080'];
  apoptosisCategories.forEach((c, i) => {
    const cx = 1544 + i * 56.5;
    drawBar(g, cx - 17.5, 35, y, apoptosisMeans[i], apoptosisErrors[i], fills[i], 16, 3, 'apoptosis-' + c);
    drawCategoryTick(g, cx, y(0), 7, 2.5, c, 435, 20);
  });
  drawValueAxis(g, y, apoptosisTicks, apoptosisTicks.map(String), {x: 1510, len: 6, gap: 3, size: 21, w: 2.5});
  drawBaseline(g, 1504, 1692, y(0), 3);
})();

/* ---------- Panel C bars ---------- */
(function () {
  const g = document.getElementById('chart-c');
  const y = linear(0, 80, 432, 123);
  cycleCategories.forEach((c, i) => {
    const start = 1823 + i * 66;
    drawBar(g, start, 16.5, y, cycleSiNC[i], cycleSiNCErr[i], '#000', 8, 2.5, 'cycle-sinc-' + c);
    drawBar(g, start + 16.5, 16.5, y, cycleSi1[i], cycleSi1Err[i], '#d2d2d2', 8, 2.5, 'cycle-si1-' + c);
    drawBar(g, start + 33, 16.5, y, cycleSi2[i], cycleSi2Err[i], '#808080', 8, 2.5, 'cycle-si2-' + c);
    drawCategoryTick(g, start + 24.5, y(0), 7, 2.5, c, 462, 22);
  });
  drawValueAxis(g, y, cycleTicks, cycleTicks.map(String), {x: 1809.5, len: 5, gap: 2, size: 25, w: 2.5});
  drawBaseline(g, 1805, 2016, y(0), 3);
})();

/* ---------- Panel D bars ---------- */
(function () {
  const g = document.getElementById('chart-d');
  const y = linear(0, 1.5, 1026, 678);
  const fills = ['#000', '#d3d3d3', '#666'];
  woundCategories.forEach((c, i) => {
    const cx = 1412 + i * 115.5;
    drawBar(g, cx - 29, 58, y, woundMeans[i], woundErrors[i], fills[i], 28, 3, 'wound-' + c);
    drawCategoryTick(g, cx, y(0), 11, 3, c, 1063, 25);
  });
  drawValueAxis(g, y, woundTicks, woundTickLabels, {x: 1356, len: 11, gap: 5, size: 27, w: 3});
  drawBaseline(g, 1345, 1702, y(0), 3);
})();

/* ---------- Panel E bars ---------- */
(function () {
  const g = document.getElementById('chart-e');
  const y = linear(0, 2, 1701, 1257);
  cellCategories.forEach((c, i) => {
    const start = 1390 + i * 228;
    drawBar(g, start, 47, y, cellSiNC[i], cellSiNCErr[i], '#000', 24, 3.5, 'cells-sinc-' + c);
    drawBar(g, start + 60.5, 47, y, cellSi1[i], cellSi1Err[i], '#d3d3d3', 24, 3.5, 'cells-si1-' + c);
    drawBar(g, start + 121, 47, y, cellSi2[i], cellSi2Err[i], '#666', 24, 3.5, 'cells-si2-' + c);
    drawCategoryTick(g, start + 84, y(0), 9, 3.5, null, 0, 0);
  });
  drawValueAxis(g, y, cellTicks, cellTicks.map(String), {x: 1367, len: 8, gap: 6, size: 33, w: 4});
  drawBaseline(g, 1359, 1813, y(0), 4);
})();

/* ---------- Transwell micrographs (approximated stain blotches) ---------- */
const transwellBlotches = [
  {name: 'sinc-invasion', x: 156, y: 1245, w: 308, h: 231, base: '#d8a93a', spots: [[340,270,50,40],[480,320,60,70],[580,360,50,70],[300,340,30,40],[390,400,25,50],[470,470,40,40],[590,520,40,40],[240,460,30,70],[310,420,20,25],[400,625,45,70],[235,680,25,60],[490,750,50,45],[520,570,25,30],[610,680,20,50],[300,700,30,30],[560,250,60,30],[420,270,30,30]]},
  {name: 'si1-invasion', x: 486, y: 1245, w: 309, h: 231, base: '#d9a755', spots: [[830,320,25,60],[895,300,15,30],[700,375,15,20],[860,490,40,40],[740,530,15,30],[940,445,15,15],[1060,480,15,30],[1045,590,15,30],[885,640,15,15],[745,630,20,20],[1015,630,15,40],[690,765,25,25],[855,770,15,20],[1020,770,20,15],[935,650,6,40],[790,420,10,40]]},
  {name: 'si2-invasion', x: 818, y: 1245, w: 309, h: 231, base: '#dba857', spots: [[1200,420,20,50],[1225,340,25,30],[1300,360,15,50],[1395,425,25,20],[1425,465,12,20],[1500,430,25,15],[1190,520,20,25],[1240,540,15,60],[1280,605,15,25],[1340,590,10,30],[1520,620,20,50],[1160,750,40,40],[1210,760,20,30],[1130,560,12,20],[1230,670,20,20],[1480,770,12,20],[1330,260,10,40]]},
  {name: 'sinc-migration', x: 156, y: 1493, w: 308, h: 232, base: '#e3a44f', spots: [[260,890,50,55],[480,880,70,40],[560,960,70,50],[450,1000,25,50],[600,1020,30,40],[530,1090,50,60],[390,1060,25,30],[450,1130,40,50],[400,1200,25,50],[500,1240,35,60],[300,1160,15,60],[230,1090,20,40],[300,1300,40,30],[240,1340,25,40],[620,1280,12,40],[360,1360,25,25],[560,1370,25,20],[340,1010,10,15]]},
  {name: 'si1-migration', x: 486, y: 1493, w: 309, h: 232, base: '#dea64a', spots: [[700,880,40,30],[860,880,30,30],[975,920,30,40],[800,1000,20,40],[870,985,30,30],[800,1090,25,35],[1015,1070,10,60],[1030,980,20,40],[690,1140,25,40],[950,1170,25,40],[1000,1260,40,40],[760,1320,50,40],[700,1320,15,30],[1070,1270,12,25],[850,1350,30,30],[1060,900,20,40]]},
  {name: 'si2-migration', x: 818, y: 1493, w: 309, h: 232, base: '#cf9a4c', spots: [[1240,950,15,30],[1140,990,12,30],[1245,1060,30,50],[1190,1085,20,20],[1270,1140,12,25],[1450,1025,50,30],[1440,910,25,12],[1330,980,10,30],[1500,1060,25,40],[1440,1225,15,30],[1315,1290,8,50],[1390,1280,15,20],[1500,1330,30,30],[1410,1365,20,20],[1130,1370,15,15],[1280,1360,12,30]]}
];
(function () {
  const root = document.getElementById('transwell');
  const svg = document.getElementById('figure');
  const defs = svg.querySelector('defs');
  const zx = 1 / 1.363, zy = 1 / 2.431;
  transwellBlotches.forEach((p, i) => {
    const clip = make('clipPath', {id: 'clip-tw-' + i}, defs);
    make('rect', {x: p.x, y: p.y, width: p.w, height: p.h}, clip);
    const g = make('g', {'clip-path': 'url(#clip-tw-' + i + ')'}, root);
    
    
    make('rect', {x: p.x, y: p.y, width: p.w, height: p.h, fill: p.base}, g);
    make('rect', {x: p.x, y: p.y, width: p.w, height: p.h, filter: 'url(#speckle)', opacity: 0.85}, g);
    const halo = make('g', {filter: 'url(#blotchy)', fill: '#6a3a5a', opacity: 0.6}, g);
    const core = make('g', {filter: 'url(#blotchy)', fill: '#52265a', opacity: 0.9}, g);
    p.spots.forEach(s => {
      make('ellipse', {cx: s[0] * zx, cy: 1150 + s[1] * zy, rx: s[2] * zx * 1.3, ry: s[3] * zy * 1.3}, halo);
      make('ellipse', {cx: s[0] * zx, cy: 1150 + s[1] * zy, rx: s[2] * zx, ry: s[3] * zy}, core);
    });
  });
})();
</script>
</body>
</html>
